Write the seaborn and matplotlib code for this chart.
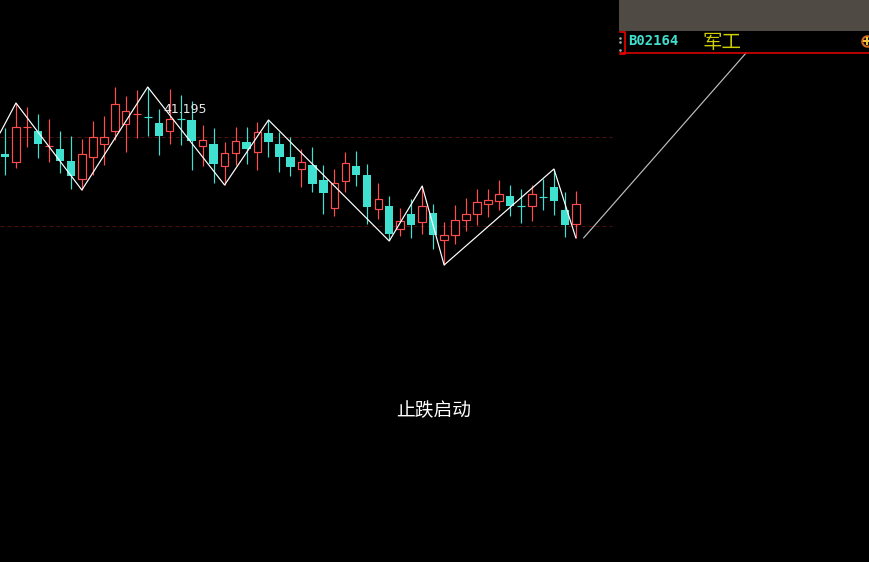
import pandas as pd
import seaborn as sns
from matplotlib import pyplot as plt
from matplotlib.patches import Rectangle

# candle values (chart levels, smaller = higher up)
highs = [128, 103, 107, 114, 119, 131, 136, 139, 121, 116, 87, 96, 90, 87, 109, 89, 95, 101, 125,
         128, 142, 127, 127, 122, 120, 132, 137, 149, 147, 165, 169, 152, 151, 164, 183, 196, 208,
         199, 186, 204, 222, 205, 198, 189, 189, 180, 185, 189, 185, 179, 169, 192, 191]
lows = [175, 168, 147, 158, 162, 173, 189, 190, 175, 165, 140, 152, 138, 136, 155, 144, 145, 170, 166,
        183, 185, 165, 164, 170, 157, 172, 176, 187, 192, 214, 216, 192, 186, 224, 219, 240, 236,
        238, 234, 249, 265, 244, 231, 225, 217, 210, 216, 223, 221, 210, 215, 237, 238]
body_top = [154, 127, 127, 131, 146, 149, 161, 154, 137, 137, 104, 111, 114, 117, 123, 119, 119, 120, 140,
            144, 153, 141, 142, 132, 133, 144, 157, 162, 165, 180, 183, 163, 166, 175, 199, 206, 221,
            214, 206, 213, 235, 220, 214, 202, 200, 194, 196, 206, 194, 197, 187, 210, 204]
body_bottom = [157, 162, 128, 144, 147, 161, 176, 179, 157, 144, 131, 124, 115, 118, 136, 131, 120, 141, 146,
               164, 166, 153, 149, 152, 142, 157, 167, 169, 184, 193, 208, 181, 175, 207, 209, 234, 229,
               225, 222, 235, 240, 235, 220, 214, 204, 201, 206, 207, 206, 198, 201, 225, 224]
is_up = [0, 1, 1, 0, 1, 0, 0, 1, 1, 1, 1, 1, 1, 0, 0, 1, 0, 0, 1,
         0, 1, 1, 0, 1, 0, 0, 0, 1, 0, 0, 1, 1, 0, 0, 1, 0, 1,
         0, 1, 0, 1, 1, 1, 1, 1, 1, 0, 0, 1, 0, 0, 0, 1]

zigzag_x = [-0.45, 1, 7, 13, 20, 24, 35, 38, 40, 50, 52]
zigzag_y = [133, 103, 190, 87, 185, 120, 241, 186, 265, 169, 238]
forecast_x = [52.7, 67.5]
forecast_y = [238, 53]
guide_levels = [137, 226]

UP = "#FF4D4D"
DOWN = "#40E0D0"
RED = "#E00000"
PX = 0.72  # one pixel in points at dpi 100

sns.set_theme(style="dark", rc={"axes.facecolor": "black", "figure.facecolor": "black"})
plt.rcParams["font.family"] = ["Noto Sans CJK SC", "DejaVu Sans"]

W, H = 869, 562
fig = plt.figure(figsize=(W / 100, H / 100), dpi=100)
ax = fig.add_axes([0, 0, 1, 1])

df = pd.DataFrame({"x": range(len(highs)), "high": highs, "low": lows,
                   "top": body_top, "bottom": body_bottom, "up": is_up})

for level in guide_levels:
    ax.plot([-0.455, 55.3], [level, level], color="#4A1010", lw=PX, ls=(0, (4, 3)), zorder=1)

colors = [UP if u else DOWN for u in df["up"]]
ax.vlines(df["x"], df["high"], df["low"], colors=colors, lw=PX * 1.2, zorder=2)
for row, c in zip(df.itertuples(), colors):
    if row.bottom - row.top <= 1:
        ax.hlines(row.top, row.x - 0.36, row.x + 0.36, colors=c, lw=PX * 1.2, zorder=3)
    elif row.up:
        ax.bar(row.x, row.bottom - row.top, bottom=row.top, width=0.68,
               facecolor="black", edgecolor=c, lw=PX * 1.2, zorder=3)
    else:
        ax.bar(row.x, row.bottom - row.top, bottom=row.top, width=0.76,
               facecolor=c, edgecolor=c, lw=0, zorder=3)

sns.lineplot(x=zigzag_x, y=zigzag_y, sort=False, color="white", lw=PX * 1.2, ax=ax, zorder=4, estimator=None)
sns.lineplot(x=forecast_x, y=forecast_y, sort=False, color="#BDBDBD", lw=PX * 1.2, ax=ax, zorder=4, estimator=None)
ax.set_xlim(-0.455, 78.7)
ax.set_ylim(H, 0)
ax.axis("off")


def fx(px):
    return px / W


def fy(py):
    return 1 - py / H


# top right panel
fig.add_artist(Rectangle((fx(619), fy(31)), fx(250), 31 / H, transform=fig.transFigure,
                         facecolor="#504A45", edgecolor="none"))
fig.add_artist(plt.Line2D([fx(620), fx(869)], [fy(52.5), fy(52.5)], color=RED, lw=PX * 1.6))
fig.add_artist(plt.Line2D([fx(620), fx(625), fx(625), fx(620)], [fy(32), fy(32), fy(53.5), fy(53.5)],
                          color=RED, lw=PX * 1.8))
fig.add_artist(plt.Line2D([fx(619.5)] * 3, [fy(38), fy(42), fy(50)], color="#AAAAAA", ls="", marker="s", ms=0.8))

fig.text(fx(628), fy(41), "B02164", color=DOWN, fontsize=10, family="DejaVu Sans Mono", weight="bold",
         va="center", ha="left")
fig.text(fx(722), fy(43), "军工", color="#CFCF00", fontsize=14, va="center", ha="center")
fig.add_artist(plt.Line2D([fx(867)], [fy(41)], marker="o", ms=7.5, mfc="black", mec="#D2691E", mew=1.5, ls=""))
fig.add_artist(plt.Line2D([fx(867)], [fy(41)], marker="+", ms=6, mec="#F0C040", mew=1.5, ls=""))

fig.text(fx(163), fy(109.5), "41.195", color="#E8E8E8", fontsize=9, family="DejaVu Sans", va="center", ha="left")
fig.text(fx(434), fy(411), "止跌启动", color="white", fontsize=13.5, va="center", ha="center")

fig.savefig("out.png", dpi=100, facecolor="black")
